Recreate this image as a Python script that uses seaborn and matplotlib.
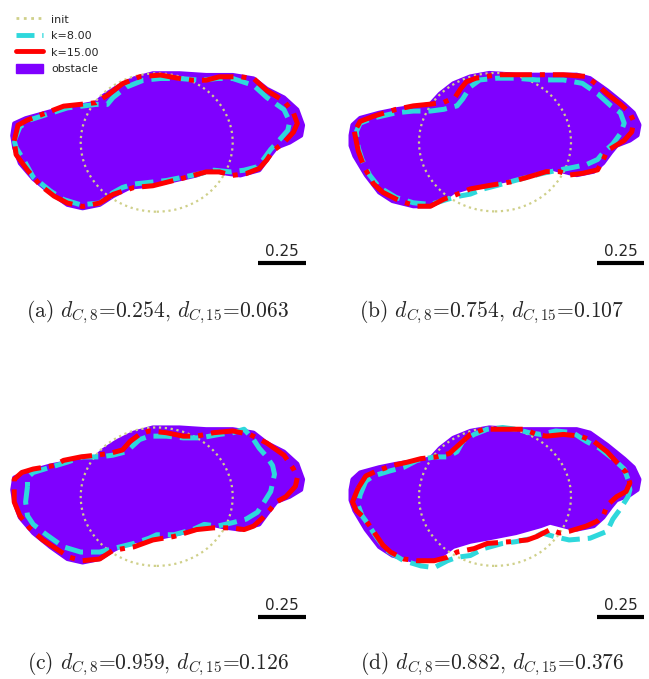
import numpy as np
import pandas as pd
import matplotlib
matplotlib.use('Agg')
import matplotlib.pyplot as plt
import seaborn as sns
from matplotlib.lines import Line2D
from matplotlib.patches import Patch, Circle

## DATA (shape outlines, in plot units, circle centre = 0,0)
init_radius = 0.4
scale_len = 0.25

obs_a_x = [-0.76, -0.75, -0.69, -0.56, -0.42, -0.32, -0.28, -0.21, -0.12, -0.02, 0.12, 0.26, 0.40, 0.51, 0.58, 0.67, 0.74, 0.77, 0.76, 0.70,
           0.63, 0.58, 0.54, 0.44, 0.37, 0.28, 0.21, 0.09, -0.04, -0.14, -0.23, -0.30, -0.39, -0.47, -0.56, -0.65, -0.72, -0.75]
obs_a_y = [0.04, 0.11, 0.14, 0.18, 0.21, 0.23, 0.27, 0.32, 0.37, 0.40, 0.40, 0.39, 0.39, 0.37, 0.31, 0.26, 0.19, 0.10, 0.04, 0.00,
           -0.03, -0.10, -0.16, -0.19, -0.18, -0.16, -0.19, -0.22, -0.25, -0.26, -0.31, -0.36, -0.38, -0.36, -0.29, -0.21, -0.12, -0.03]

obs_b_x = [-0.76, -0.75, -0.71, -0.61, -0.52, -0.34, -0.29, -0.22, -0.13, -0.03, 0.11, 0.27, 0.43, 0.50, 0.59, 0.68, 0.73, 0.76, 0.75, 0.71,
           0.64, 0.61, 0.57, 0.52, 0.43, 0.36, 0.29, 0.24, 0.11, -0.03, -0.13, -0.22, -0.27, -0.34, -0.43, -0.54, -0.61, -0.68, -0.74, -0.76]
obs_b_y = [0.04, 0.10, 0.14, 0.17, 0.19, 0.22, 0.28, 0.34, 0.38, 0.40, 0.39, 0.39, 0.39, 0.37, 0.30, 0.22, 0.17, 0.10, 0.04, 0.01,
           -0.02, -0.06, -0.12, -0.17, -0.19, -0.17, -0.15, -0.17, -0.21, -0.24, -0.26, -0.29, -0.33, -0.37, -0.37, -0.34, -0.29, -0.19, -0.08, -0.02]

# k=15 results
red_a_x = [-0.75, -0.73, -0.68, -0.49, -0.32, -0.25, -0.18, -0.09, 0.02, 0.12, 0.19, 0.26, 0.33, 0.44, 0.51, 0.58, 0.67, 0.72, 0.74, 0.72,
           0.67, 0.61, 0.58, 0.54, 0.47, 0.40, 0.33, 0.26, 0.16, -0.02, -0.12, -0.23, -0.30, -0.39, -0.47, -0.54, -0.61, -0.68, -0.74]
red_a_y = [0.01, 0.10, 0.13, 0.21, 0.23, 0.28, 0.34, 0.38, 0.39, 0.37, 0.36, 0.36, 0.38, 0.38, 0.37, 0.30, 0.24, 0.17, 0.11, 0.06,
           0.00, -0.05, -0.10, -0.15, -0.18, -0.19, -0.17, -0.17, -0.20, -0.25, -0.26, -0.30, -0.35, -0.37, -0.35, -0.31, -0.25, -0.16, -0.07]
red_b_x = [-0.74, -0.72, -0.69, -0.64, -0.59, -0.50, -0.41, -0.34, -0.27, -0.22, -0.13, -0.03, 0.08, 0.18, 0.27, 0.34, 0.39, 0.46, 0.54, 0.57,
           0.59, 0.62, 0.68, 0.72, 0.73, 0.71, 0.66, 0.59, 0.54, 0.48, 0.36, 0.22, 0.11, 0.01, -0.10, -0.15, -0.18, -0.21, -0.27, -0.34,
           -0.43, -0.52, -0.64, -0.71]
red_b_y = [0.06, -0.05, -0.14, -0.24, -0.29, -0.34, -0.37, -0.37, -0.33, -0.31, -0.27, -0.25, -0.23, -0.20, -0.17, -0.17, -0.19, -0.18, -0.16, -0.10,
           -0.05, -0.03, 0.01, 0.06, 0.12, 0.17, 0.22, 0.28, 0.33, 0.38, 0.39, 0.39, 0.39, 0.39, 0.37, 0.35, 0.31, 0.26, 0.23, 0.22,
           0.21, 0.19, 0.15, 0.12]
red_c_x = [-0.75, -0.75, -0.72, -0.67, -0.60, -0.53, -0.46, -0.39, -0.30, -0.23, -0.12, -0.02, 0.09, 0.21, 0.30, 0.39, 0.46, 0.51, 0.56, 0.60,
           0.63, 0.68, 0.73, 0.74, 0.72, 0.67, 0.58, 0.49, 0.40, 0.30, 0.21, 0.14, 0.05, -0.04, -0.09, -0.14, -0.18, -0.25, -0.32, -0.40,
           -0.49, -0.54, -0.65, -0.71, -0.75]
red_c_y = [0.04, -0.03, -0.11, -0.18, -0.25, -0.30, -0.35, -0.37, -0.36, -0.31, -0.29, -0.25, -0.23, -0.19, -0.18, -0.18, -0.19, -0.17, -0.12, -0.07,
           -0.03, 0.00, 0.06, 0.11, 0.16, 0.24, 0.31, 0.36, 0.38, 0.37, 0.35, 0.35, 0.37, 0.38, 0.36, 0.32, 0.27, 0.25, 0.24, 0.23,
           0.21, 0.18, 0.16, 0.14, 0.10]
red_d_x = [-0.72, -0.75, -0.73, -0.69, -0.64, -0.59, -0.55, -0.48, -0.41, -0.32, -0.25, -0.20, -0.11, -0.04, 0.08, 0.17, 0.22, 0.29, 0.34, 0.39,
           0.48, 0.54, 0.57, 0.59, 0.64, 0.69, 0.71, 0.69, 0.64, 0.59, 0.52, 0.45, 0.36, 0.27, 0.22, 0.15, 0.04, -0.06, -0.13, -0.18,
           -0.24, -0.31, -0.39, -0.46, -0.54, -0.62, -0.68]
red_d_y = [0.05, -0.03, -0.08, -0.12, -0.20, -0.28, -0.32, -0.36, -0.37, -0.37, -0.35, -0.32, -0.30, -0.27, -0.26, -0.25, -0.23, -0.19, -0.21, -0.20,
           -0.17, -0.14, -0.11, -0.05, 0.00, 0.03, 0.08, 0.14, 0.20, 0.26, 0.32, 0.35, 0.36, 0.35, 0.36, 0.39, 0.39, 0.39, 0.36, 0.31,
           0.25, 0.23, 0.22, 0.20, 0.18, 0.15, 0.12]

# k=8 results
cyan_a_x = [-0.75, -0.72, -0.67, -0.47, -0.32, -0.26, -0.23, -0.16, -0.07, 0.02, 0.12, 0.23, 0.32, 0.40, 0.51, 0.58, 0.67, 0.70, 0.69, 0.65,
            0.60, 0.56, 0.53, 0.46, 0.39, 0.30, 0.23, 0.05, -0.12, -0.18, -0.23, -0.30, -0.40, -0.49, -0.56, -0.65, -0.70, -0.74]
cyan_a_y = [0.01, 0.09, 0.13, 0.20, 0.22, 0.22, 0.26, 0.32, 0.36, 0.37, 0.37, 0.36, 0.37, 0.37, 0.33, 0.26, 0.19, 0.12, 0.07, 0.02,
            -0.04, -0.10, -0.14, -0.16, -0.17, -0.16, -0.18, -0.22, -0.24, -0.26, -0.29, -0.35, -0.36, -0.33, -0.28, -0.20, -0.10, -0.03]
cyan_b_x = [-0.73, -0.71, -0.64, -0.52, -0.43, -0.34, -0.27, -0.20, -0.17, -0.13, -0.08, 0.01, 0.11, 0.22, 0.36, 0.46, 0.54, 0.61, 0.66, 0.68,
            0.66, 0.62, 0.57, 0.54, 0.48, 0.39, 0.34, 0.25, 0.11, 0.01, -0.06, -0.13, -0.18, -0.25, -0.34, -0.43, -0.52, -0.61, -0.66, -0.70,
            -0.72]
cyan_b_y = [0.06, 0.11, 0.14, 0.17, 0.18, 0.18, 0.19, 0.21, 0.25, 0.32, 0.36, 0.37, 0.37, 0.36, 0.36, 0.34, 0.28, 0.21, 0.17, 0.11,
            0.05, -0.01, -0.06, -0.10, -0.13, -0.15, -0.16, -0.18, -0.22, -0.25, -0.27, -0.30, -0.31, -0.33, -0.36, -0.35, -0.32, -0.26, -0.19, -0.10,
            -0.03]
cyan_c_x = [-0.68, -0.69, -0.68, -0.65, -0.58, -0.49, -0.40, -0.30, -0.23, -0.12, -0.04, 0.00, 0.09, 0.19, 0.25, 0.32, 0.40, 0.47, 0.53, 0.56,
            0.60, 0.62, 0.61, 0.58, 0.54, 0.51, 0.46, 0.40, 0.33, 0.23, 0.14, 0.05, -0.04, -0.09, -0.12, -0.16, -0.23, -0.30, -0.39, -0.47,
            -0.56, -0.65, -0.68]
cyan_c_y = [0.06, -0.03, -0.11, -0.16, -0.22, -0.29, -0.32, -0.32, -0.30, -0.27, -0.24, -0.22, -0.22, -0.19, -0.16, -0.17, -0.15, -0.13, -0.09, -0.04,
            0.03, 0.13, 0.18, 0.23, 0.28, 0.33, 0.39, 0.37, 0.36, 0.34, 0.34, 0.35, 0.35, 0.33, 0.30, 0.26, 0.24, 0.23, 0.23, 0.20,
            0.17, 0.14, 0.11]
cyan_d_x = [-0.68, -0.71, -0.72, -0.70, -0.68, -0.62, -0.57, -0.48, -0.39, -0.32, -0.25, -0.20, -0.13, -0.06, 0.04, 0.11, 0.20, 0.25, 0.31, 0.39,
            0.50, 0.59, 0.62, 0.66, 0.70, 0.71, 0.70, 0.68, 0.62, 0.55, 0.48, 0.41, 0.32, 0.24, 0.18, 0.11, 0.04, -0.04, -0.11, -0.17,
            -0.20, -0.25, -0.32, -0.41, -0.48, -0.55, -0.64]
cyan_d_y = [0.09, 0.01, -0.05, -0.11, -0.14, -0.24, -0.31, -0.37, -0.40, -0.41, -0.37, -0.35, -0.34, -0.30, -0.27, -0.26, -0.24, -0.21, -0.23, -0.25,
            -0.24, -0.20, -0.13, -0.07, 0.00, 0.04, 0.10, 0.16, 0.22, 0.28, 0.32, 0.37, 0.38, 0.36, 0.37, 0.39, 0.40, 0.39, 0.36, 0.32,
            0.26, 0.23, 0.23, 0.21, 0.17, 0.15, 0.12]

tags = ['a', 'b', 'c', 'd']
d_c8 = [0.254, 0.754, 0.959, 0.882]
d_c15 = [0.063, 0.107, 0.126, 0.376]

panels = {
    'a': dict(obs=(obs_a_x, obs_a_y), k8=(cyan_a_x, cyan_a_y), k15=(red_a_x, red_a_y)),
    'b': dict(obs=(obs_b_x, obs_b_y), k8=(cyan_b_x, cyan_b_y), k15=(red_b_x, red_b_y)),
    'c': dict(obs=(obs_a_x, obs_a_y), k8=(cyan_c_x, cyan_c_y), k15=(red_c_x, red_c_y)),
    'd': dict(obs=(obs_b_x, obs_b_y), k8=(cyan_d_x, cyan_d_y), k15=(red_d_x, red_d_y)),
}

## STYLE
sns.set_style('white')
plt.rcParams['font.family'] = ['DejaVu Sans']
plt.rcParams['mathtext.fontset'] = 'cm'

c_obs = '#7f00ff'
c_init = '#cfd08a'
c_k8 = '#2ed8dc'
c_k15 = '#ff0000'

W, H = 649, 679
fig = plt.figure(figsize=(W / 100, H / 100), dpi=100)

# panel boxes in pixels: left, right, top, bottom, circle centre, caption centre
boxes = {
    'a': (0, 320, 0, 280, 156.7, 142.5, 157.5, 312),
    'b': (330, 649, 0, 280, 495.0, 142.2, 492.0, 312),
    'c': (0, 320, 355, 635, 156.7, 496.7, 157.5, 664),
    'd': (330, 649, 355, 635, 495.0, 496.7, 492.0, 664),
}
sx, sy = 190.0, 173.0  # px per unit


def closed(v):
    v = np.asarray(v)
    return np.r_[v, v[:1]]


for i, t in enumerate(tags):
    l, r, top, bot, cx, cy, cap_x, cap_y = boxes[t]
    ax = fig.add_axes([l / W, 1 - bot / H, (r - l) / W, (bot - top) / H])
    ax.set_xlim((l - cx) / sx, (r - cx) / sx)
    ax.set_ylim((cy - bot) / sy, (cy - top) / sy)
    p = panels[t]
    ax.fill(p['obs'][0], p['obs'][1], color=c_obs, lw=3, joinstyle='round', zorder=1)
    ax.add_patch(Circle((0, 0), init_radius, fill=False, ls=':', lw=1.6, ec=c_init, zorder=2))
    sns.lineplot(x=closed(p['k8'][0]), y=closed(p['k8'][1]), sort=False, estimator=None,
                 color=c_k8, linestyle='--', lw=3.6, ax=ax, zorder=3)
    sns.lineplot(x=closed(p['k15'][0]), y=closed(p['k15'][1]), sort=False, estimator=None,
                 color=c_k15, linestyle='-.', lw=3.6, ax=ax, zorder=4)
    # scale bar
    x0 = 0.535
    ax.plot([x0, x0 + scale_len], [-0.697, -0.697], color='k', lw=3, solid_capstyle='butt')
    ax.text(x0 + scale_len / 2, -0.675, f'{scale_len:.2f}', ha='center', va='bottom', fontsize=11)
    ax.set_axis_off()

    fig.text(cap_x / W, 1 - cap_y / H,
             rf'({t}) $d_{{C,8}}$=' + f'{d_c8[i]:.3f}, ' + rf'$d_{{C,15}}$=' + f'{d_c15[i]:.3f}',
             ha='center', va='center', fontsize=15.5, family='cmr10')

handles = [
    Line2D([], [], color=c_init, ls=':', lw=2),
    Line2D([], [], color=c_k8, ls='--', lw=3.5),
    Line2D([], [], color=c_k15, ls='-', lw=3.5),
    Patch(color=c_obs),
]
fig.legend(handles, ['init', 'k=8.00', 'k=15.00', 'obstacle'], loc='upper left',
           bbox_to_anchor=(0.01, 0.994), frameon=False, fontsize=8,
           handlelength=2.4, handleheight=0.9, labelspacing=0.55, handletextpad=0.7)

fig.savefig('out.png', dpi=100)
